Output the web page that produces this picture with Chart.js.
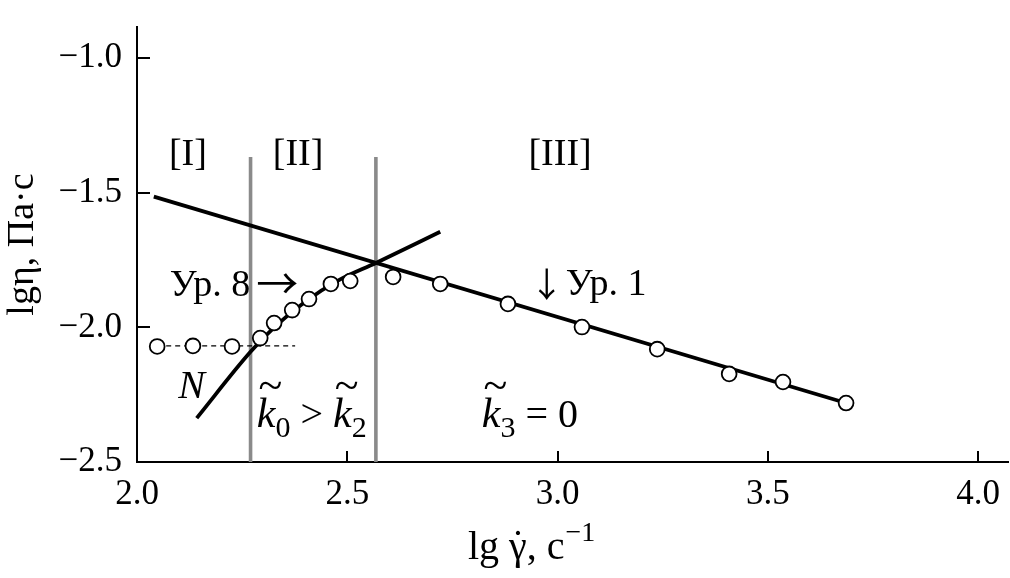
<!DOCTYPE html>
<html><head><meta charset="utf-8">
<script src="https://cdn.jsdelivr.net/npm/chart.js@4.4.1/dist/chart.umd.min.js"></script>
<style>html,body{margin:0;padding:0;background:#fff}#wrap{width:1010px;height:578px;position:relative}</style>
</head><body><div id="wrap"><canvas id="c" width="1010" height="578"></canvas></div>
<script>
// ---- data ----
const xTicks = [2.0, 2.5, 3.0, 3.5, 4.0];
const yTicks = [-2.5, -2.0, -1.5, -1.0];
const regionIx = [2.048, 2.133, 2.226];
const regionIy = [-2.071, -2.069, -2.071];
const regionIIx = [2.293, 2.326, 2.369, 2.409, 2.461, 2.507];
const regionIIy = [-2.040, -1.984, -1.936, -1.895, -1.839, -1.828];
const regionIIIx = [2.609, 2.721, 2.882, 3.058, 3.237, 3.408, 3.536, 3.686];
const regionIIIy = [-1.813, -1.839, -1.913, -1.999, -2.081, -2.173, -2.203, -2.281];
const eq1X = [2.040, 3.686];
const eq1Y = [-1.515, -2.281];
const eq8X = [2.142, 2.270, 2.330, 2.400, 2.480, 2.568, 2.721];
const eq8Y = [-2.337, -2.091, -1.995, -1.905, -1.825, -1.761, -1.645];
const plateauX = [2.048, 2.376];
const plateauY = [-2.069, -2.069];
const boundaryX = [2.270, 2.568];
const boundaryTop = -1.368;
const yMin = -2.5, yMax = -0.885, xMin = 2.0, xMax = 4.071;

const serif = "'Liberation Serif', 'Times New Roman', serif";
const arrowFont = "'Noto Sans CJK JP', 'DejaVu Sans', sans-serif";
const pts = (xs, ys) => xs.map((x, i) => ({x: x, y: ys[i]}));
const circle = {showLine: false, pointRadius: 7.4, pointHoverRadius: 7.4, pointBorderWidth: 1.8,
  pointBorderColor: '#000', pointBackgroundColor: '#fff', borderColor: '#000', backgroundColor: '#fff'};
const lineStyle = (color, width, dash) => ({showLine: true, pointRadius: 0, pointHoverRadius: 0,
  borderColor: color, borderWidth: width, borderDash: dash || [], fill: false, backgroundColor: color});

const datasets = [
  Object.assign({label: 'I', data: pts(regionIx, regionIy), order: 0}, circle),
  Object.assign({label: 'II', data: pts(regionIIx, regionIIy), order: 0}, circle),
  Object.assign({label: 'III', data: pts(regionIIIx, regionIIIy), order: 0}, circle),
  Object.assign({label: 'Ур. 1', data: pts(eq1X, eq1Y), order: 1}, lineStyle('#000', 3.8)),
  Object.assign({label: 'Ур. 8', data: pts(eq8X, eq8Y), order: 1, cubicInterpolationMode: 'monotone'}, lineStyle('#000', 3.8)),
  Object.assign({label: 'plateau', data: pts(plateauX, plateauY), order: 2}, lineStyle('#000', 1.4, [5, 4])),
];
boundaryX.forEach((bx, i) => {
  datasets.push(Object.assign({label: 'b' + i, data: [{x: bx, y: yMin}, {x: bx, y: boundaryTop}], order: 3},
    lineStyle('#8a8a8a', 3.6)));
});

// ---- annotation placement (data coordinates) ----
const noteFont = 38;
const notes = {
  regions: [
    {text: '[I]', x: 2.121, y: -1.362},
    {text: '[II]', x: 2.383, y: -1.362},
    {text: '[III]', x: 3.006, y: -1.362}
  ],
  eq8: {x: 2.078, y: -1.884},
  eq1: {x: 2.934, y: -1.880},
  N: {text: 'N', x: 2.098, y: -2.263},
  k02: {x: 2.285, y: -2.370},
  k3: {x: 2.820, y: -2.370}
};

function drawRich(ctx, x, y, segs) {
  let cx = x;
  segs.forEach(s => {
    ctx.font = (s.italic ? 'italic ' : '') + s.size + 'px ' + (s.family || serif);
    const w = ctx.measureText(s.t).width;
    ctx.fillText(s.t, cx, y + (s.dy || 0));
    if (s.tilde) {
      ctx.save();
      ctx.font = Math.round(s.size * 1.05) + 'px ' + serif;
      const tw = ctx.measureText('~').width;
      ctx.fillText('~', cx + w / 2 - tw / 2 + s.size * 0.1, y - s.size * 0.64);
      ctx.restore();
    }
    cx += w + (s.after || 0);
  });
  return cx;
}

const annot = {
  id: 'annot',
  afterDatasetsDraw(chart) {
    const ctx = chart.ctx, xs = chart.scales.x, ys = chart.scales.y;
    const P = (o) => [xs.getPixelForValue(o.x), ys.getPixelForValue(o.y)];
    ctx.save();
    ctx.fillStyle = '#000';
    // inward tick marks
    ctx.strokeStyle = '#000'; ctx.lineWidth = 2;
    const ca = chart.chartArea;
    xTicks.forEach(v => { const px = Math.round(xs.getPixelForValue(v));
      ctx.beginPath(); ctx.moveTo(px, ca.bottom); ctx.lineTo(px, ca.bottom - 11); ctx.stroke(); });
    yTicks.forEach(v => { const py = Math.round(ys.getPixelForValue(v));
      ctx.beginPath(); ctx.moveTo(ca.left, py); ctx.lineTo(ca.left + 13, py); ctx.stroke(); });

    ctx.font = noteFont + 'px ' + serif;
    ctx.textBaseline = 'middle'; ctx.textAlign = 'center';
    notes.regions.forEach(r => { const [px, py] = P(r); ctx.fillText(r.text, px, py); });
    ctx.textBaseline = 'alphabetic'; ctx.textAlign = 'left';
    let p = P(notes.eq8);
    drawRich(ctx, p[0], p[1], [
      {t: 'Ур. 8', size: noteFont, after: 6},
      {t: '→', size: 42, family: arrowFont, dy: 3}
    ]);
    p = P(notes.eq1);
    drawRich(ctx, p[0], p[1], [
      {t: '↓', size: 34, family: arrowFont, after: 2, dy: 2},
      {t: 'Ур. 1', size: noteFont}
    ]);
    ctx.font = 'italic 40px ' + serif;
    p = P(notes.N); ctx.fillText(notes.N.text, p[0], p[1]);
    p = P(notes.k02);
    drawRich(ctx, p[0], p[1], [
      {t: 'k', italic: true, size: 42, tilde: true},
      {t: '0', size: 30, dy: 10},
      {t: ' > ', size: 40},
      {t: 'k', italic: true, size: 42, tilde: true},
      {t: '2', size: 30, dy: 10}
    ]);
    p = P(notes.k3);
    drawRich(ctx, p[0], p[1], [
      {t: 'k', italic: true, size: 42, tilde: true},
      {t: '3', size: 30, dy: 10},
      {t: ' = 0', size: 40}
    ]);
    // x axis title
    const tx = 468, ty = 559;
    let cx = tx;
    ctx.font = '40px ' + serif;
    ctx.fillText('lg ', cx, ty); cx += ctx.measureText('lg ').width;
    const gw = ctx.measureText('γ').width;
    ctx.fillText('γ', cx, ty);
    ctx.textAlign = 'center';
    ctx.fillText('˙', cx + gw / 2, ty - 2);
    ctx.textAlign = 'left';
    cx += gw;
    ctx.fillText(', с', cx, ty); cx += ctx.measureText(', с').width;
    ctx.font = '28px ' + serif;
    ctx.fillText('−1', cx + 1, ty - 18);
    ctx.restore();
  }
};

const fmt = v => (v < 0 ? '−' : '') + Math.abs(v).toFixed(1);

new Chart(document.getElementById('c'), {
  type: 'scatter',
  data: {datasets: datasets},
  options: {
    responsive: false, animation: false, devicePixelRatio: 1,
    layout: {autoPadding: false, padding: {top: 27, right: 2, left: 0, bottom: 0}},
    plugins: {legend: {display: false}, tooltip: {enabled: false}},
    elements: {line: {tension: 0}},
    scales: {
      x: {type: 'linear', min: xMin, max: xMax,
        afterBuildTicks: s => { s.ticks = xTicks.map(v => ({value: v})); },
        afterFit: s => { s.height = 116; s.paddingLeft = 0; s.paddingRight = 0; },
        grid: {display: true, drawOnChartArea: false, drawTicks: false},
        border: {display: true, color: '#000', width: 2},
        ticks: {font: {family: serif, size: 35}, color: '#000', padding: 12, maxRotation: 0, autoSkip: false, callback: v => v.toFixed(1)}
      },
      y: {type: 'linear', min: yMin, max: yMax,
        afterBuildTicks: s => { s.ticks = yTicks.map(v => ({value: v})); },
        afterFit: s => { s.width = 137; s.paddingTop = 0; s.paddingBottom = 0; },
        grid: {display: true, drawOnChartArea: false, drawTicks: false},
        border: {display: true, color: '#000', width: 2},
        title: {display: true, text: 'lgη, Па·с', font: {family: serif, size: 38}, color: '#000', padding: {top: 0, bottom: 0}},
        ticks: {font: {family: serif, size: 35}, color: '#000', padding: 15, autoSkip: false, callback: fmt}
      }
    }
  },
  plugins: [annot]
});
</script>
</body></html>
